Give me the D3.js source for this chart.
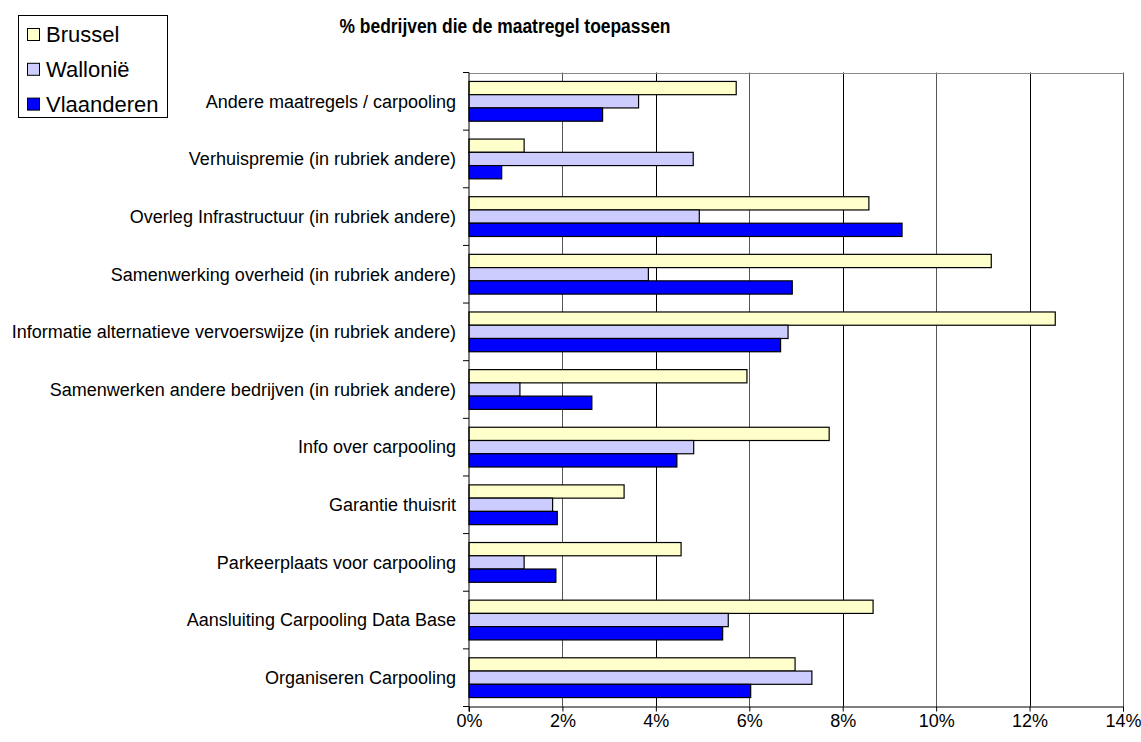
<!DOCTYPE html>
<html>
<head>
<meta charset="utf-8">
<script src="https://cdn.jsdelivr.net/npm/d3@7"></script>
<style>
  body { margin: 0; background: #fff; }
  svg { font-family: "Liberation Sans", Arial, sans-serif; }
</style>
</head>
<body>
<svg width="1141" height="742"></svg>
<script>
  const categories = [
    'Andere maatregels / carpooling',
    'Verhuispremie (in rubriek andere)',
    'Overleg Infrastructuur (in rubriek andere)',
    'Samenwerking overheid (in rubriek andere)',
    'Informatie alternatieve vervoerswijze (in rubriek andere)',
    'Samenwerken andere bedrijven (in rubriek andere)',
    'Info over carpooling',
    'Garantie thuisrit',
    'Parkeerplaats voor carpooling',
    'Aansluiting Carpooling Data Base',
    'Organiseren Carpooling'
  ];
  const seriesNames = ['Brussel', 'Wallonië', 'Vlaanderen'];
  const brussel    = [5.72, 1.18, 8.56, 11.18, 12.55, 5.95, 7.71, 3.32, 4.54, 8.65, 6.98];
  const wallonie   = [3.63, 4.80, 4.93, 3.84, 6.83, 1.09, 4.81, 1.79, 1.18, 5.55, 7.34];
  const vlaanderen = [2.86, 0.70, 9.27, 6.92, 6.67, 2.63, 4.45, 1.89, 1.86, 5.43, 6.03];
  const xTicks = [0, 2, 4, 6, 8, 10, 12, 14];
  const colors = ['#ffffcc', '#ccccff', '#0000ff'];

(function (d3) {
  const svg = d3.select('svg');
  const plotLeft = 469, plotRight = 1123, plotTop = 72.5, plotBottom = 706.5;

  const data = categories.map((c, i) => ({
    cat: c,
    values: [brussel[i], wallonie[i], vlaanderen[i]]
  }));

  const xScale = d3.scaleLinear().domain([0, 14]).range([plotLeft, plotRight]);
  const yScale = d3.scaleBand().domain(categories).range([plotTop, plotBottom])
    .paddingInner(0.31).paddingOuter(0.155);
  const ySub = d3.scaleBand().domain(seriesNames).range([0, yScale.bandwidth()]);

  // title
  svg.append('text')
    .attr('x', 505).attr('y', 33)
    .attr('text-anchor', 'middle')
    .attr('font-size', 20).attr('font-weight', 'bold')
    .attr('textLength', 331).attr('lengthAdjust', 'spacingAndGlyphs')
    .text('% bedrijven die de maatregel toepassen');

  // gridlines
  svg.append('g').selectAll('line').data(xTicks.slice(1)).join('line')
    .attr('x1', d => Math.round(xScale(d)) + 0.5).attr('x2', d => Math.round(xScale(d)) + 0.5)
    .attr('y1', plotTop).attr('y2', plotBottom)
    .attr('stroke', (d, i) => i % 2 === 0 ? '#555' : '#000')
    .attr('stroke-width', 1);

  // top border
  svg.append('line')
    .attr('x1', plotLeft).attr('x2', plotRight + 0.5)
    .attr('y1', Math.round(plotTop) + 0.5).attr('y2', Math.round(plotTop) + 0.5)
    .attr('stroke', '#888');

  // bars
  const groups = svg.append('g').selectAll('g').data(data).join('g')
    .attr('transform', d => `translate(0,${yScale(d.cat)})`);
  groups.selectAll('rect').data(d => d.values.map((v, j) => ({ v, s: seriesNames[j], j })))
    .join('rect')
      .attr('x', xScale(0))
      .attr('y', d => ySub(d.s))
      .attr('width', d => xScale(d.v) - xScale(0))
      .attr('height', ySub.bandwidth())
      .attr('fill', d => colors[d.j])
      .attr('stroke', '#000')
      .attr('stroke-width', 1.2);

  // x axis
  const xAxis = d3.axisBottom(xScale)
    .tickValues(xTicks)
    .tickFormat(d => d + '%')
    .tickSize(5)
    .tickPadding(3);
  const xAxisG = svg.append('g')
    .attr('transform', `translate(0,${plotBottom})`)
    .call(xAxis);
  xAxisG.select('.domain').attr('stroke', '#000');
  xAxisG.selectAll('text').attr('font-size', 18).attr('fill', '#000')
    .attr('font-family', '"Liberation Sans", Arial, sans-serif');

  // y axis
  const yAxisG = svg.append('g');
  yAxisG.append('line')
    .attr('x1', plotLeft).attr('x2', plotLeft)
    .attr('y1', plotTop).attr('y2', plotBottom + 5)
    .attr('stroke', '#000');
  yAxisG.selectAll('.tk').data(d3.range(categories.length + 1)).join('line')
    .attr('class', 'tk')
    .attr('x1', plotLeft - 6).attr('x2', plotLeft)
    .attr('y1', i => plotTop + i * yScale.step())
    .attr('y2', i => plotTop + i * yScale.step())
    .attr('stroke', '#000');
  yAxisG.selectAll('text').data(categories).join('text')
    .attr('x', 456)
    .attr('y', d => yScale(d) + yScale.bandwidth() / 2)
    .attr('dy', '0.35em')
    .attr('text-anchor', 'end')
    .attr('font-size', 18)
    .text(d => d);

  // legend
  const lg = svg.append('g');
  lg.append('rect')
    .attr('x', 18.5).attr('y', 15.5).attr('width', 149).attr('height', 102)
    .attr('fill', '#fff').attr('stroke', '#000');
  const rows = lg.selectAll('g').data(seriesNames).join('g')
    .attr('transform', (d, i) => `translate(0,${34.5 + i * 34.8})`);
  rows.append('rect')
    .attr('x', 27.5).attr('y', -6).attr('width', 12).attr('height', 12)
    .attr('fill', (d, i) => colors[i]).attr('stroke', '#000');
  rows.append('text')
    .attr('x', 46).attr('y', 0).attr('dy', '0.36em')
    .attr('font-size', 22)
    .text(d => d);
}(d3));
</script>
</body>
</html>
